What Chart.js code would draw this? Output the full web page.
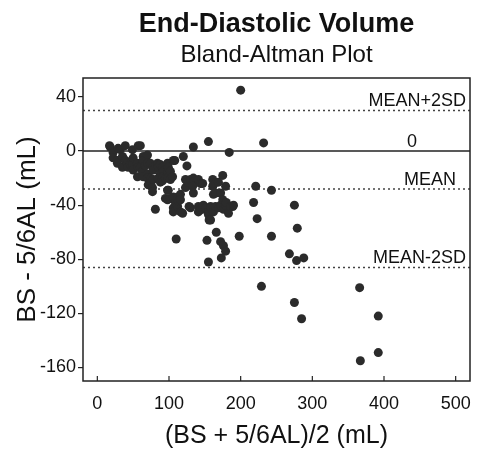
<!DOCTYPE html>
<html>
<head>
<meta charset="utf-8">
<title>End-Diastolic Volume</title>
<script src="https://cdn.jsdelivr.net/npm/chart.js@4"></script>
<style>
  html, body { margin: 0; padding: 0; background: #fff; }
  canvas { display: block; }
</style>
</head>
<body>
<canvas id="baChart" width="483" height="455"></canvas>
<script>
// (BS + 5/6AL)/2 and BS - 5/6AL
const avgVolume = [
  17, 18, 22, 22, 28, 28, 29, 32, 35, 35, 36, 39, 39, 42, 43, 46, 49, 49, 50, 50,
  56, 56, 57, 57, 60, 60, 63, 64, 64, 64, 64, 67, 70, 70, 70, 70, 71, 74, 74, 74,
  77, 77, 78, 78, 78, 81, 84, 84, 85, 85, 88, 88, 88, 91, 91, 92, 92, 95, 95, 98,
  98, 98, 98, 98, 99, 99, 102, 102, 102, 105, 105, 106, 106, 106, 106, 108, 109, 112, 112, 113,
  116, 116, 116, 119, 120, 123, 123, 125, 126, 128, 130, 130, 134, 134, 134, 134, 133, 141, 141, 141,
  144, 144, 147, 147, 148, 151, 155, 155, 155, 156, 158, 161, 161, 162, 162, 162, 158, 165, 165, 169,
  169, 172, 172, 175, 175, 176, 179, 179, 180, 183, 184, 186, 189, 190, 110, 153, 166, 172, 176, 179,
  155, 173, 198, 200, 218, 221, 223, 232, 243, 243, 229, 268, 275, 278, 279, 288, 275, 285, 366, 392,
  392, 367
];
const diffVolume = [
  4, 3, -1, -5, -7, -9, 2, 1, -4, -12, -5, 4, -7, -9, -12, -10, 1, -10, -5, -14,
  -9, -19, -12, 4, 4, -12, -15, -4, -7, -16, -19, -11, -3, -9, -17, -20, -25, -9, -20, -24,
  -27, -30, -12, -14, -21, -43, -9, -10, -12, -20, -10, -17, -23, -12, -22, -15, -19, -20, -35, -9,
  -15, -20, -29, -36, -12, -29, -15, -21, -35, -19, -35, -7, -34, -42, -45, -7, -38, -34, -41, -37,
  -32, -36, -45, -46, -4, -21, -27, -11, -23, -41, -21, -42, 3, -20, -23, -31, -26, -21, -41, -45,
  -24, -43, -24, -43, -40, -42, 7, -45, -47, -51, -41, -21, -26, -25, -32, -45, -51, -31, -41, -23,
  -42, -31, -40, -18, -36, -43, -26, -40, -38, -46, -1, -41, -41, -40, -65, -66, -60, -67, -70, -74,
  -82, -79, -63, 45, -38, -26, -50, 6, -29, -63, -100, -76, -40, -81, -57, -79, -112, -124, -101, -122,
  -149, -155
];

const xTicks = [0, 100, 200, 300, 400, 500];
const yTicks = [40, 0, -40, -80, -120, -160];

// limits of agreement
const refValues = [30, 0, -28, -86];
const refLabels = ["MEAN+2SD", "0", "MEAN", "MEAN-2SD"];

const points = avgVolume.map((x, i) => ({ x: x, y: diffVolume[i] }));

const ink = "#222";
const fontFamily = "'Liberation Sans', Arial, sans-serif";

const decorPlugin = {
  id: "decor",
  beforeDatasetsDraw(chart) {
    const { ctx, chartArea: a, scales } = chart;
    ctx.save();
    refValues.forEach((v, i) => {
      const y = scales.y.getPixelForValue(v);
      ctx.beginPath();
      if (v === 0) {
        ctx.setLineDash([]);
        ctx.strokeStyle = ink;
        ctx.lineWidth = 1.5;
      } else {
        ctx.setLineDash([2, 3]);
        ctx.strokeStyle = "#444";
        ctx.lineWidth = 1.5;
      }
      ctx.moveTo(a.left, y);
      ctx.lineTo(a.right, y);
      ctx.stroke();
    });
    ctx.setLineDash([]);

    // labels above the lines
    ctx.fillStyle = "#111";
    ctx.font = "18px " + fontFamily;
    ctx.textBaseline = "alphabetic";
    refLabels.forEach((t, i) => {
      const y = scales.y.getPixelForValue(refValues[i]) - 4;
      if (t === "0") {
        ctx.textAlign = "center";
        ctx.fillText(t, 412, y);
      } else if (t === "MEAN") {
        ctx.textAlign = "right";
        ctx.fillText(t, 456, y);
      } else {
        ctx.textAlign = "right";
        ctx.fillText(t, a.right - 4, y);
      }
    });
    ctx.restore();
  },
  afterDraw(chart) {
    const { ctx, chartArea: a, scales } = chart;
    ctx.save();
    // box
    ctx.strokeStyle = ink;
    ctx.lineWidth = 1.5;
    ctx.strokeRect(a.left, a.top, a.right - a.left, a.bottom - a.top);

    // inward ticks on x axis
    ctx.lineWidth = 1.2;
    xTicks.forEach(v => {
      const x = scales.x.getPixelForValue(v);
      ctx.beginPath();
      ctx.moveTo(x, a.bottom);
      ctx.lineTo(x, a.bottom - 5);
      ctx.stroke();
    });

    // titles
    const cx = (a.left + a.right) / 2;
    ctx.fillStyle = "#111";
    ctx.textAlign = "center";
    ctx.textBaseline = "alphabetic";
    ctx.font = "bold 27px " + fontFamily;
    ctx.fillText("End-Diastolic Volume", cx, 32);
    ctx.font = "24px " + fontFamily;
    ctx.fillText("Bland-Altman Plot", cx, 62);
    ctx.restore();
  }
};

new Chart(document.getElementById("baChart"), {
  type: "scatter",
  data: {
    datasets: [{
      data: points,
      backgroundColor: "#2b2b2b",
      borderColor: "#2b2b2b",
      pointRadius: 4.5,
      borderWidth: 0
    }]
  },
  options: {
    responsive: false,
    animation: false,
    layout: { padding: { top: 78, right: 13, left: 0, bottom: 0 } },
    plugins: {
      legend: { display: false },
      tooltip: { enabled: false }
    },
    scales: {
      x: {
        type: "linear",
        min: -20,
        max: 520,
        afterBuildTicks: s => { s.ticks = xTicks.map(v => ({ value: v })); },
        afterFit: s => { s.height = 74; },
        grid: { display: false },
        border: { display: false },
        ticks: {
          color: "#111",
          padding: 4,
          maxRotation: 0,
          font: { family: fontFamily, size: 18 }
        },
        title: {
          display: true,
          text: "(BS + 5/6AL)/2 (mL)",
          color: "#111",
          padding: { top: 0, bottom: 4 },
          font: { family: fontFamily, size: 25 }
        }
      },
      y: {
        type: "linear",
        min: -170,
        max: 54,
        afterBuildTicks: s => { s.ticks = yTicks.map(v => ({ value: v })); },
        afterFit: s => { s.width = 83; },
        grid: {
          drawOnChartArea: false,
          drawTicks: true,
          tickLength: 5,
          color: ink,
          lineWidth: 1.2
        },
        border: { display: false },
        ticks: {
          color: "#111",
          padding: 2,
          font: { family: fontFamily, size: 18 }
        },
        title: {
          display: true,
          text: "BS - 5/6AL (mL)",
          color: "#111",
          padding: { top: 12, bottom: 0 },
          font: { family: fontFamily, size: 26 }
        }
      }
    }
  },
  plugins: [decorPlugin]
});
</script>
</body>
</html>
